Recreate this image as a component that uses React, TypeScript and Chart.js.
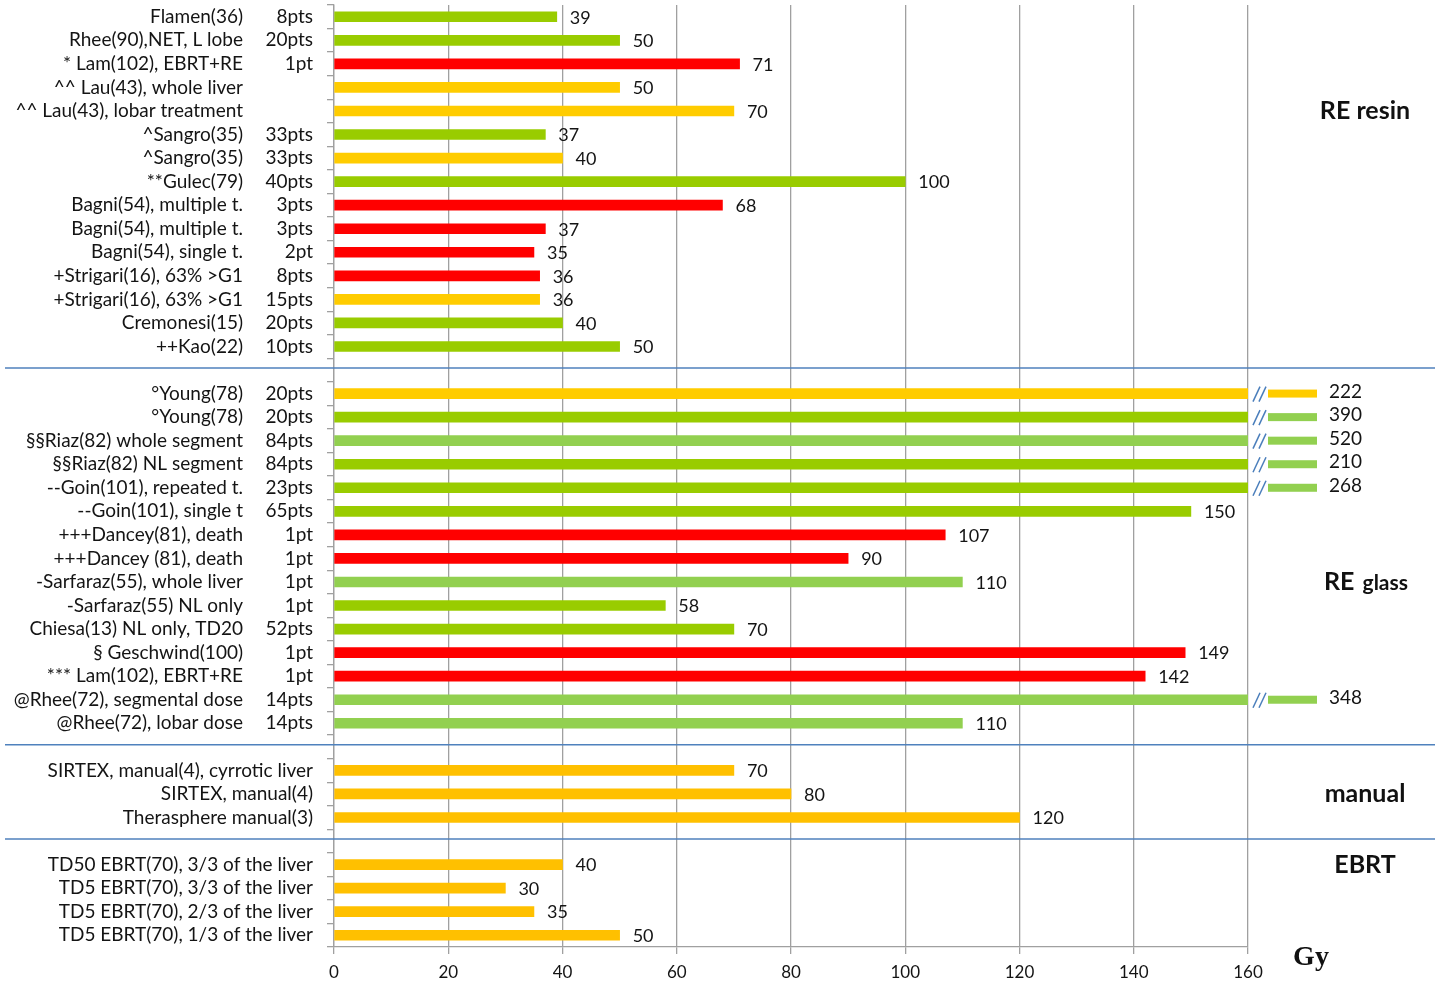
import { useEffect, useRef } from 'react'
import { Chart, registerables } from 'chart.js'

Chart.register(...registerables)

// x axis, Gy
const xTicks = [0, 20, 40, 60, 80, 100, 120, 140, 160]
const xMax = 160

// kinds: g = tolerated, l = tolerated (light), y = threshold, o = threshold (manual/EBRT), r = toxicity
const resinNames = [
  'Flamen(36)',
  'Rhee(90),NET, L lobe',
  '* Lam(102), EBRT+RE',
  '^^ Lau(43), whole liver',
  '^^ Lau(43), lobar treatment',
  '^Sangro(35)',
  '^Sangro(35)',
  '**Gulec(79)',
  'Bagni(54), multiple t.',
  'Bagni(54), multiple t.',
  'Bagni(54), single t.',
  '+Strigari(16), 63% >G1',
  '+Strigari(16), 63% >G1',
  'Cremonesi(15)',
  '++Kao(22)'
]
const resinPts = ['8pts', '20pts', '1pt', '', '', '33pts', '33pts', '40pts', '3pts', '3pts', '2pt', '8pts', '15pts', '20pts', '10pts']
const resinValues = [39, 50, 71, 50, 70, 37, 40, 100, 68, 37, 35, 36, 36, 40, 50]
const resinKinds = ['g', 'g', 'r', 'y', 'y', 'g', 'y', 'g', 'r', 'r', 'r', 'r', 'y', 'g', 'g']

const glassNames = [
  '°Young(78)',
  '°Young(78)',
  '§§Riaz(82) whole segment',
  '§§Riaz(82) NL segment',
  '--Goin(101), repeated t.',
  '--Goin(101), single t',
  '+++Dancey(81), death',
  '+++Dancey (81), death',
  '-Sarfaraz(55), whole liver',
  '-Sarfaraz(55) NL only',
  'Chiesa(13) NL only, TD20',
  '§ Geschwind(100)',
  '*** Lam(102), EBRT+RE',
  '@Rhee(72), segmental dose',
  '@Rhee(72), lobar dose'
]
const glassPts = ['20pts', '20pts', '84pts', '84pts', '23pts', '65pts', '1pt', '1pt', '1pt', '1pt', '52pts', '1pt', '1pt', '14pts', '14pts']
const glassValues = [222, 390, 520, 210, 268, 150, 107, 90, 110, 58, 70, 149, 142, 348, 110]
const glassKinds = ['y', 'g', 'l', 'g', 'g', 'g', 'r', 'r', 'l', 'g', 'g', 'r', 'r', 'l', 'l']

const manualNames = ['SIRTEX, manual(4), cyrrotic liver', 'SIRTEX, manual(4)', 'Therasphere manual(3)']
const manualValues = [70, 80, 120]

const ebrtNames = [
  'TD50 EBRT(70), 3/3 of the liver',
  'TD5 EBRT(70), 3/3 of the liver',
  'TD5 EBRT(70), 2/3 of the liver',
  'TD5 EBRT(70), 1/3 of the liver'
]
const ebrtValues = [40, 30, 35, 50]

const sectionTitles = ['RE resin', 'RE glass', 'manual', 'EBRT']

const kindColors: Record<string, string> = {
  g: '#99cc00',
  l: '#92d050',
  y: '#ffcc00',
  o: '#ffc000',
  r: '#ff0000'
}

type Row = { name: string; pts: string | null; value: number | null; kind: string; gap?: boolean }

const gapRow: Row = { name: '', pts: null, value: null, kind: '', gap: true }

const rows: Row[] = [
  ...resinNames.map((n, i) => ({ name: n, pts: resinPts[i], value: resinValues[i], kind: resinKinds[i] })),
  gapRow,
  ...glassNames.map((n, i) => ({ name: n, pts: glassPts[i], value: glassValues[i], kind: glassKinds[i] })),
  gapRow,
  ...manualNames.map((n, i) => ({ name: n, pts: null, value: manualValues[i], kind: 'o' })),
  gapRow,
  ...ebrtNames.map((n, i) => ({ name: n, pts: null, value: ebrtValues[i], kind: 'o' }))
]

// row where each section title sits
const glassStart = resinNames.length + 1
const manualStart = glassStart + glassNames.length + 1
const ebrtStart = manualStart + manualNames.length + 1
const titleRows = [4, glassStart + 8, manualStart + 1, ebrtStart]

const textColor = '#141414'
const gridColor = '#a0a0a0'
const sepColor = '#4f81bd'
const font = 'Lato, "Open Sans", sans-serif'

const overlayPlugin = {
  id: 'overlay',
  afterDatasetsDraw(chart: any) {
    const { ctx, chartArea } = chart
    const yScale = chart.scales.y
    const meta = chart.getDatasetMeta(0)
    const R = chartArea.right
    ctx.save()

    rows.forEach((row, i) => {
      const cy = yScale.getPixelForValue(i)
      if (row.gap) {
        ctx.strokeStyle = sepColor
        ctx.lineWidth = 1.5
        ctx.beginPath()
        ctx.moveTo(5, cy - 2)
        ctx.lineTo(chart.width - 4, cy - 2)
        ctx.stroke()
        return
      }

      // category labels
      ctx.fillStyle = textColor
      ctx.font = `19px ${font}`
      ctx.textBaseline = 'middle'
      ctx.textAlign = 'right'
      if (row.pts === null) {
        ctx.fillText(row.name, 313, cy)
      } else {
        ctx.fillText(row.name, 243, cy)
        ctx.fillText(row.pts, 313, cy)
      }

      // value labels and axis breaks
      const bar = meta.data[i]
      const v = row.value as number
      ctx.textAlign = 'left'
      ctx.font = `18px ${font}`
      if (v > xMax) {
        ctx.strokeStyle = '#4a7ebb'
        ctx.lineWidth = 1.5
        for (const k of [0, 6]) {
          ctx.beginPath()
          ctx.moveTo(R + 5 + k, cy + 8)
          ctx.lineTo(R + 12 + k, cy - 7)
          ctx.stroke()
        }
        ctx.fillStyle = row.kind === 'y' ? kindColors.y : kindColors.l
        ctx.fillRect(R + 20, cy - 4, 49, 8)
        ctx.fillStyle = textColor
        ctx.font = `19px ${font}`
        ctx.fillText(String(v), R + 81, cy - 2)
      } else {
        ctx.fillText(String(v), bar.x + 13, cy + 1)
      }
    })

    // section titles
    ctx.fillStyle = '#111111'
    ctx.textBaseline = 'middle'
    const tx = R + 117
    sectionTitles.forEach((t, k) => {
      const ty = yScale.getPixelForValue(titleRows[k])
      if (t === 'RE glass') {
        ctx.font = `bold 25px ${font}`
        const w1 = ctx.measureText('RE ').width
        ctx.font = `bold 21px ${font}`
        const w2 = ctx.measureText('glass').width
        const left = tx - (w1 + w2) / 2
        ctx.textAlign = 'left'
        ctx.font = `bold 25px ${font}`
        ctx.fillText('RE', left, ty)
        ctx.font = `bold 21px ${font}`
        ctx.fillText('glass', left + w1 + 2, ty + 1)
      } else {
        ctx.textAlign = 'center'
        ctx.font = `bold 25px ${font}`
        ctx.fillText(t, tx, ty)
      }
    })

    // axis unit
    ctx.font = 'bold 28px "Liberation Serif", "DejaVu Serif", serif'
    ctx.textAlign = 'center'
    ctx.fillText('Gy', R + 63, chartArea.bottom + 11)

    ctx.restore()
  }
}

export default function App() {
  const canvasRef = useRef<HTMLCanvasElement>(null)
  const chartRef = useRef<Chart | null>(null)

  useEffect(() => {
    document.body.style.margin = '0'
    if (!canvasRef.current) return
    if (chartRef.current) chartRef.current.destroy()

    chartRef.current = new Chart(canvasRef.current, {
      type: 'bar',
      data: {
        labels: rows.map((r) => r.name),
        datasets: [
          {
            data: rows.map((r) => r.value),
            backgroundColor: rows.map((r) => kindColors[r.kind] || 'transparent'),
            borderWidth: 0,
            barThickness: 10,
            clip: 0
          }
        ]
      },
      options: {
        indexAxis: 'y',
        responsive: true,
        maintainAspectRatio: false,
        animation: false,
        layout: { padding: { left: 0, right: 191, top: 5, bottom: 0 } },
        plugins: {
          legend: { display: false },
          tooltip: { enabled: false }
        },
        scales: {
          x: {
            min: 0,
            max: xMax,
            afterBuildTicks: (scale: any) => {
              scale.ticks = xTicks.map((v) => ({ value: v }))
            },
            afterFit: (scale: any) => {
              scale.height = 37
            },
            grid: { color: gridColor, lineWidth: 1.3, tickLength: 7 },
            border: { color: gridColor, width: 1.3 },
            ticks: {
              padding: 8,
              color: textColor,
              font: { family: font, size: 17 }
            }
          },
          y: {
            afterFit: (scale: any) => {
              scale.width = 334
            },
            grid: { drawOnChartArea: false, color: gridColor, lineWidth: 1.3, tickLength: 7 },
            border: { color: gridColor, width: 1.3 },
            ticks: { display: false }
          }
        }
      },
      plugins: [overlayPlugin]
    } as any)

    return () => {
      if (chartRef.current) {
        chartRef.current.destroy()
        chartRef.current = null
      }
    }
  }, [])

  return (
    <div style={{ position: 'relative', width: '1439px', height: '984px' }}>
      <canvas ref={canvasRef} />
    </div>
  )
}
